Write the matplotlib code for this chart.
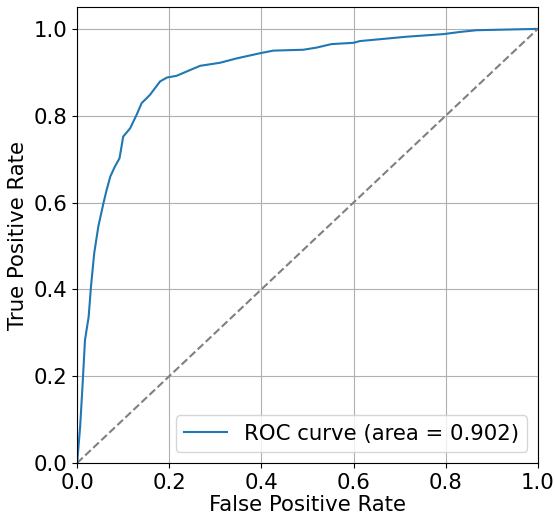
import matplotlib
matplotlib.use("Agg")
import matplotlib.pyplot as plt

# ROC points
fpr = [0.0, 0.0065, 0.012, 0.017, 0.025, 0.030, 0.037, 0.046, 0.057, 0.064,
       0.072, 0.082, 0.092, 0.100, 0.115, 0.129, 0.140, 0.158, 0.180, 0.195,
       0.216, 0.238, 0.267, 0.310, 0.346, 0.397, 0.426, 0.491, 0.520, 0.552,
       0.600, 0.614, 0.715, 0.795, 0.831, 0.867, 0.997, 1.0]
tpr = [0.0, 0.084, 0.184, 0.283, 0.337, 0.406, 0.483, 0.545, 0.598, 0.629,
       0.660, 0.683, 0.702, 0.752, 0.771, 0.802, 0.829, 0.848, 0.879, 0.888,
       0.892, 0.902, 0.915, 0.922, 0.932, 0.944, 0.950, 0.952, 0.957, 0.965,
       0.968, 0.972, 0.982, 0.988, 0.993, 0.997, 1.0, 1.0]
roc_auc = 0.902

plt.rcParams['font.size'] = 15.3

fig = plt.figure(figsize=(5.55, 5.15), dpi=100)
ax = fig.add_axes([0.139, 0.101, 0.830, 0.885])

ax.plot(fpr, tpr, color='C0', lw=1.5, label='ROC curve (area = %0.3f)' % roc_auc)
ax.plot([0, 1], [0, 1], color='gray', lw=1.5, linestyle='--')
ax.set_xlim(0.0, 1.0)
ax.set_ylim(0.0, 1.05)
ax.set_xlabel('False Positive Rate', labelpad=2)
ax.set_ylabel('True Positive Rate')
ax.legend(loc='lower right')
ax.grid(True)

fig.savefig('out.png')
